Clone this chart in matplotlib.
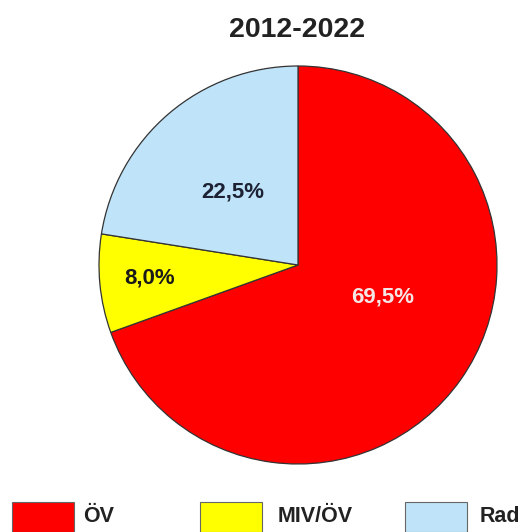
import matplotlib
matplotlib.use("Agg")
import matplotlib.pyplot as plt
from matplotlib.patches import Rectangle

title = "2012-2022"
categories = ["ÖV", "MIV/ÖV", "Rad"]
values = [69.5, 8.0, 22.5]
colors = ["#ff0000", "#ffff00", "#bfe3f8"]
label_colors = ["#f5e6e6", "#1a1a1a", "#1c2233"]

plt.rcParams['font.family'] = ['Liberation Sans', 'DejaVu Sans']

W, H = 526, 532
fig = plt.figure(figsize=(W / 100, H / 100), dpi=100)
cx, cy, r = 298, 265, 199
ax = fig.add_axes([(cx - r) / W, (H - cy - r) / H, 2 * r / W, 2 * r / H])
wedges, _ = ax.pie(values, colors=colors, startangle=90, counterclock=False,
                   radius=1, wedgeprops=dict(edgecolor="#333333", linewidth=0.9))
ax.set_xlim(-1, 1)
ax.set_ylim(-1, 1)
ax.set_aspect('auto')
ax.axis('off')

label_pos = [(0.427, -0.161), (-0.744, -0.065), (-0.327, 0.367)]
for v, (x, y), c in zip(values, label_pos, label_colors):
    ax.text(x, y, f"{v:.1f}%".replace('.', ','), ha='center', va='center',
            fontsize=16, fontweight='bold', color=c)

fig.text(297 / W, 1 - 30 / H, title, ha='center', va='center',
         fontsize=20.5, fontweight='bold', color='#222222')

box_x = [12, 200, 405]
text_x = [83, 278, 480]
for cat, col, bx, tx in zip(categories, colors, box_x, text_x):
    fig.patches.append(Rectangle((bx / W, 0), 62 / W, 30 / H, transform=fig.transFigure,
                                 facecolor=col, edgecolor='#666666', linewidth=0.8))
    fig.text(tx / W, 1 - 517 / H, cat, ha='left', va='center', fontsize=15.5,
             fontweight='bold', color='#222222')

fig.savefig("out.png", dpi=100)
